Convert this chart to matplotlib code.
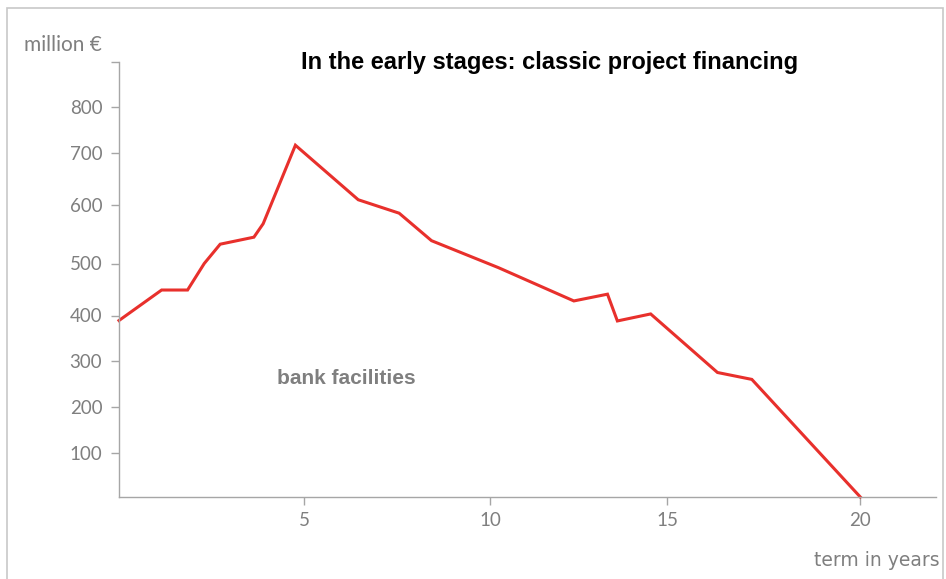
import numpy as np
import matplotlib.pyplot as plt
from matplotlib.patches import Rectangle

# bank facility volume over the loan term
term_years = [0, 1.15, 1.85, 2.30, 2.73, 3.64, 3.89, 4.76, 6.45, 7.55,
              8.42, 10.23, 12.36, 13.31, 13.59, 14.53, 16.30, 17.19, 20]
volume = [389, 449, 449, 500, 533, 545, 568, 716, 610, 586,
          539, 492, 428, 441, 388, 403, 275, 260, 0]

y_ticks = [100, 200, 300, 400, 500, 600, 700, 800]
x_ticks = [5, 10, 15, 20]

# the axes are hand-spaced, so map values onto them piecewise
y_vals = [0, 100, 200, 300, 400, 500, 600, 700, 800, 900]
y_pos = [0, 44, 90, 136, 181.5, 233.5, 292, 344.5, 390, 435.5]
x_vals = [0, 5, 10, 15, 20, 22]
x_pos = [0, 185.3, 371.3, 548.3, 741.3, 817]


def y_fwd(v):
    return np.interp(v, y_vals, y_pos)


def y_inv(p):
    return np.interp(p, y_pos, y_vals)


def x_fwd(v):
    return np.interp(v, x_vals, x_pos)


def x_inv(p):
    return np.interp(p, x_pos, x_vals)


grey = '#7f7f7f'
axis_grey = '#a6a6a6'
plt.rcParams['font.family'] = ['Lato', 'DejaVu Sans']

fig = plt.figure(figsize=(9.46, 5.79), dpi=100)
ax = fig.add_axes([119 / 946, 82 / 579, 817 / 946, 435.5 / 579])

ax.set_xscale('function', functions=(x_fwd, x_inv))
ax.set_yscale('function', functions=(y_fwd, y_inv))

ax.plot(term_years, volume, color='#e8302c', linewidth=2.2,
        solid_joinstyle='miter', clip_on=False)

ax.set_xlim(0, 22)
ax.set_ylim(0, 900)
ax.set_xticks(x_ticks)
ax.set_yticks(y_ticks + [900])
ax.set_yticklabels([str(t) for t in y_ticks] + [''])

for side in ['top', 'right']:
    ax.spines[side].set_visible(False)
for side in ['left', 'bottom']:
    ax.spines[side].set_color(axis_grey)
    ax.spines[side].set_linewidth(1.0)

ax.tick_params(axis='both', colors=axis_grey, labelcolor=grey,
               labelsize=13.5, length=6, width=1.0)
ax.tick_params(axis='y', pad=6)
ax.tick_params(axis='x', pad=5)

fig.text(102 / 946, 1 - 45 / 579, 'million €', ha='right', va='center',
         color=grey, fontsize=15)
fig.text(549.5 / 946, 1 - 62 / 579, 'In the early stages: classic project financing',
         ha='center', va='center', fontsize=17, fontweight='bold',
         family='Liberation Sans', color='black')
fig.text(346.5 / 946, 1 - 379 / 579, 'bank facilities', ha='center', va='center',
         fontsize=15, fontweight='bold', family='Liberation Sans', color=grey)
fig.text(940 / 946, 1 - 560 / 579, 'term in years', ha='right', va='center',
         fontsize=13.5, color=grey, family='Liberation Sans Narrow')

# thin frame around the slide
fig.patches.append(Rectangle((7 / 946, -0.01), 936 / 946, 1 - 8 / 579 + 0.01,
                             transform=fig.transFigure, fill=False,
                             edgecolor='#c8c8c8', linewidth=1.2))

fig.savefig('out.png', dpi=100)
